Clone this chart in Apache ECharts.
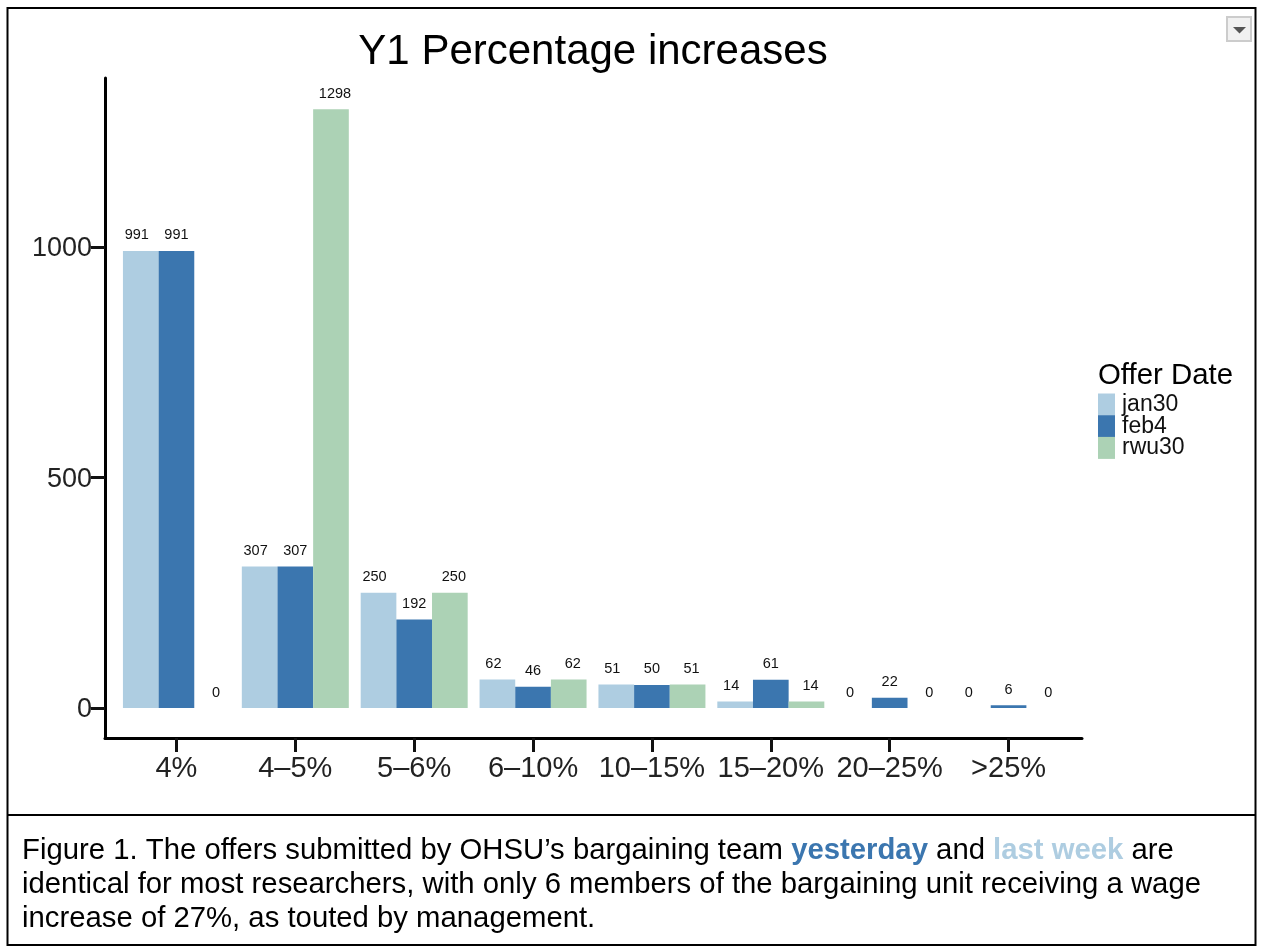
<!DOCTYPE html>
<html><head><meta charset="utf-8">
<style>html,body{margin:0;padding:0;background:#fff}#c{width:1264px;height:952px}</style>
<script src="https://cdn.jsdelivr.net/npm/echarts@6/dist/echarts.min.js"></script>
</head><body><div id="c"></div>
<script>
const categories = ['4%','4–5%','5–6%','6–10%','10–15%','15–20%','20–25%','>25%'];
const jan30 = [991,307,250,62,51,14,0,0];
const feb4  = [991,307,192,46,50,61,22,6];
const rwu30 = [0,1298,250,62,51,14,0,0];
const yTicks = [0,500,1000];
const FONT = '"Liberation Sans", Arial, sans-serif';
const chart = echarts.init(document.getElementById('c'), null, {renderer:'canvas'});
const mk = (name,data,color,dx)=>({
  name, type:'bar', data, xAxisIndex:0, yAxisIndex:0, barGap:0, barCategoryGap:'10%',
  itemStyle:{color},
  label:{show:true, position:'top', distance:8, offset:[dx,0], fontFamily:FONT, fontSize:14.5, color:'#111'},
  silent:true, animation:false
});
chart.setOption({
  animation:false,
  backgroundColor:'#fff',
  title:[
    {text:'Y1 Percentage increases', left:588, top:26, textAlign:'center',
     textStyle:{fontFamily:FONT,fontSize:42,fontWeight:'normal',color:'#000'}},
    {text:'Offer Date', left:1093, top:356,
     textStyle:{fontFamily:FONT,fontSize:29.4,fontWeight:'normal',color:'#000'}}
  ],
  legend:{
    data:['jan30','feb4','rwu30'], orient:'vertical', left:1098, top:393,
    itemWidth:17, itemHeight:22, itemGap:-1.3, icon:'rect', selectedMode:false,
    textStyle:{fontFamily:FONT,fontSize:23,color:'#111',padding:[0,0,0,2]}, padding:0
  },
  grid:[
    {left:117,width:951,top:78,height:630},
    {left:105,width:977,top:78,height:660}
  ],
  xAxis:[
    {type:'category',gridIndex:0,data:categories,offset:30,
     axisLine:{show:false,onZero:false},
     axisTick:{show:true,alignWithLabel:true,length:14,lineStyle:{color:'#111',width:3}},
     axisLabel:{fontFamily:FONT,fontSize:29,color:'#222',margin:16,interval:0}},
    {type:'value',gridIndex:1,min:0,max:1,
     axisLine:{show:true,lineStyle:{color:'#000',width:3}},axisTick:{show:false},axisLabel:{show:false},splitLine:{show:false}}
  ],
  yAxis:[
    {type:'value',gridIndex:0,min:0,max:1366,offset:12,
     axisLine:{show:false},
     axisTick:{show:true,length:14,lineStyle:{color:'#111',width:3},customValues:yTicks},
     axisLabel:{fontFamily:FONT,fontSize:27,color:'#222',margin:13,customValues:yTicks,
       formatter:v=>'{a|'+v+'}',
       rich:{a:{fontFamily:FONT,fontSize:27,color:'#222',padding:[4,0,0,0]}}},
     splitLine:{show:false}},
    {type:'value',gridIndex:1,min:0,max:1,
     axisLine:{show:true,lineStyle:{color:'#000',width:3}},axisTick:{show:false},axisLabel:{show:false},splitLine:{show:false}}
  ],
  series:[mk('jan30',jan30,'#AECDE1',-4),mk('feb4',feb4,'#3B76AF',0),mk('rwu30',rwu30,'#ACD2B5',4)],
  graphic:[
    {type:'rect',shape:{x:7.5,y:8,width:1248,height:937},style:{fill:null,stroke:'#000',lineWidth:2}},
    {type:'line',shape:{x1:7,y1:815,x2:1256,y2:815},style:{stroke:'#000',lineWidth:2}},
    {type:'rect',shape:{x:1227,y:17,width:24,height:24},style:{fill:'#f1f1f1',stroke:'#cccccc',lineWidth:2}},
    {type:'polygon',shape:{points:[[1233,27],[1246,27],[1239.5,33.5]]},style:{fill:'#555'}},
    {type:'text',x:22,y:834,style:{
      fontFamily:FONT,fontSize:29.3,lineHeight:34,fill:'#000',
      text:'Figure 1. The offers submitted by OHSU’s bargaining team {a|yesterday} and {b|last week} are\nidentical for most researchers, with only 6 members of the bargaining unit receiving a wage\nincrease of 27%, as touted by management.',
      rich:{
        a:{fontFamily:FONT,fontSize:29.3,fontWeight:'bold',fill:'#3B76AF',lineHeight:34},
        b:{fontFamily:FONT,fontSize:29.3,fontWeight:'bold',fill:'#AECDE1',lineHeight:34}
      }
    }}
  ]
});
</script></body></html>
